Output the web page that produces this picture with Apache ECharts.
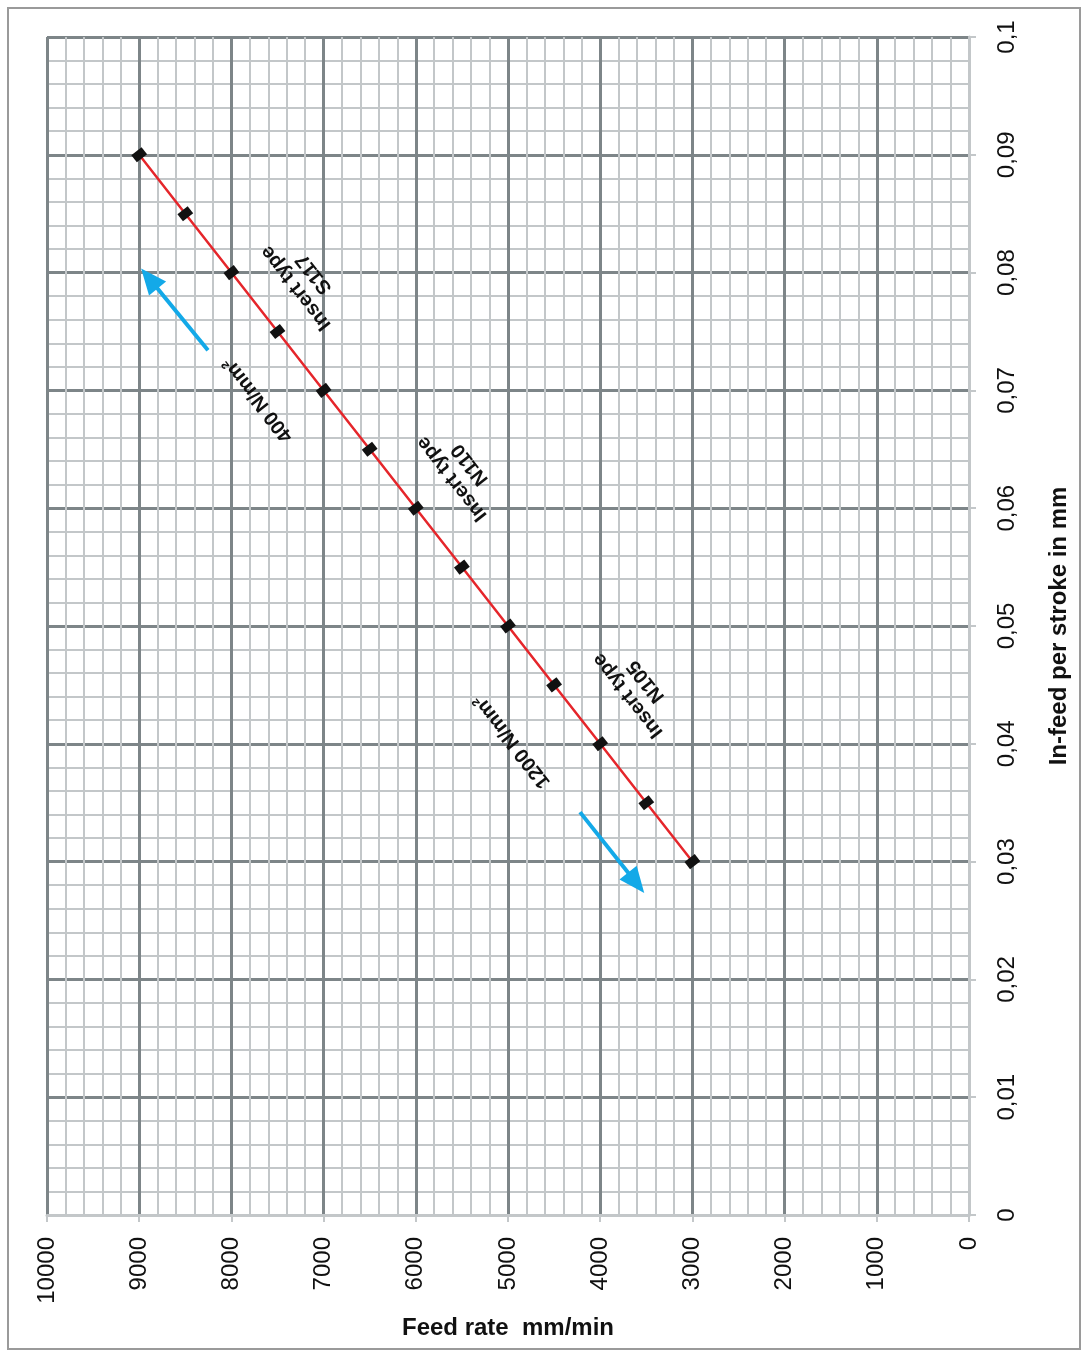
<!DOCTYPE html>
<html>
<head>
    <meta charset="utf-8">
    <script src="https://cdn.jsdelivr.net/npm/echarts@6/dist/echarts.min.js"></script>
    <style>
        body { margin: 0; background: #fff; }
    </style>
</head>
<body>
    <div id="main" style="width: 1088px;height:1354px"></div>

    <script type="text/javascript">
        // feed rate (mm/min) vs in-feed per stroke (mm)
        var feedRate = [9000, 8500, 8000, 7500, 7000, 6500, 6000, 5500, 5000, 4500, 4000, 3500, 3000];
        var inFeed = [0.09, 0.085, 0.08, 0.075, 0.07, 0.065, 0.06, 0.055, 0.05, 0.045, 0.04, 0.035, 0.03];

        // notes on the chart, anchored in data units [feed, infeed]
        var noteTexts = ['Insert type\nS117', '400 N/mm²', 'Insert type\nN110', 'Insert type\nN105', '1200 N/mm²'];
        var notePos = [[7202, 0.0793], [7712, 0.0692], [5510, 0.0631], [3601, 0.0447], [4957, 0.0402]];

        // blue arrows: [from, to]
        var arrows = [
            [[8254, 0.0734], [8890, 0.0795]],
            [[4219, 0.0342], [3610, 0.0282]]
        ];

        var dark = '#7d8588';
        var light = '#c3c7c9';
        var darkList = [light, dark, dark, dark, dark, dark, dark, dark, dark, dark, dark];

        var myChart = echarts.init(document.getElementById('main'));

        var pts = [];
        for (var i = 0; i < feedRate.length; i++) {
            pts.push([feedRate[i], inFeed[i]]);
        }
        var arrowData = [];
        for (var j = 0; j < arrows.length; j++) {
            arrowData.push([{ coord: arrows[j][0] }, { coord: arrows[j][1] }]);
        }

        var option = {
            animation: false,
            grid: { left: 47, right: 119, top: 37, bottom: 139 },
            textStyle: { fontFamily: 'Liberation Sans' },
            xAxis: {
                type: 'value',
                min: 0, max: 10000, interval: 1000,
                inverse: true,
                name: 'Feed rate  mm/min',
                nameLocation: 'middle',
                nameGap: 101,
                nameTextStyle: { fontSize: 24, fontWeight: 'bold', color: '#111' },
                axisLine: { show: true, lineStyle: { color: light, width: 3 } },
                axisTick: { show: true, length: 7, lineStyle: { color: light, width: 2 } },
                axisLabel: {
                    rotate: 90, margin: 22, fontSize: 24, color: '#111',
                    formatter: function (v) { return String(v); }
                },
                splitLine: { show: true, lineStyle: { color: darkList, width: 3 } },
                minorTick: { show: false, splitNumber: 5 },
                minorSplitLine: { show: true, lineStyle: { color: light, width: 2 } }
            },
            yAxis: {
                type: 'value',
                position: 'right',
                min: 0, max: 0.1, interval: 0.01,
                name: 'In-feed per stroke in mm',
                nameLocation: 'middle',
                nameRotate: 90,
                nameGap: 78,
                nameTextStyle: { fontSize: 24, fontWeight: 'bold', color: '#111' },
                axisLine: { show: true, lineStyle: { color: light, width: 3 } },
                axisTick: { show: true, length: 7, lineStyle: { color: light, width: 2 } },
                axisLabel: {
                    rotate: 90, margin: 26, fontSize: 24, color: '#111',
                    formatter: function (v) { return String(+v.toFixed(2)).replace('.', ','); }
                },
                splitLine: { show: true, lineStyle: { color: darkList, width: 3 } },
                minorTick: { show: false, splitNumber: 5 },
                minorSplitLine: { show: true, lineStyle: { color: light, width: 2 } }
            },
            series: [{
                type: 'line',
                data: pts,
                lineStyle: { color: '#e5262b', width: 2.5 },
                symbol: 'rect',
                symbolSize: [13, 9],
                symbolRotate: 38,
                itemStyle: { color: '#111' },
                z: 5,
                markLine: {
                    silent: true,
                    symbol: ['none', 'triangle'],
                    symbolSize: [22, 26],
                    label: { show: false },
                    lineStyle: { color: '#13a9e8', width: 4, type: 'solid' },
                    data: arrowData
                }
            }]
        };

        myChart.setOption(option);

        // notes, upside down along the line
        var g = [{
            type: 'rect',
            shape: { x: 8, y: 8, width: 1072, height: 1341 },
            style: { fill: 'none', stroke: '#9a9a9a', lineWidth: 2 },
            silent: true
        }];
        for (var k = 0; k < noteTexts.length; k++) {
            var p = myChart.convertToPixel({ gridIndex: 0 }, notePos[k]);
            g.push({
                type: 'text',
                x: p[0], y: p[1],
                rotation: 128 * Math.PI / 180,
                z: 10,
                style: {
                    text: noteTexts[k],
                    x: 0, y: 0,
                    align: 'center',
                    verticalAlign: 'middle',
                    font: 'bold 20px "Liberation Sans"',
                    lineHeight: 23,
                    fill: '#111'
                }
            });
        }
        myChart.setOption({ graphic: g });
    </script>
</body>
</html>
